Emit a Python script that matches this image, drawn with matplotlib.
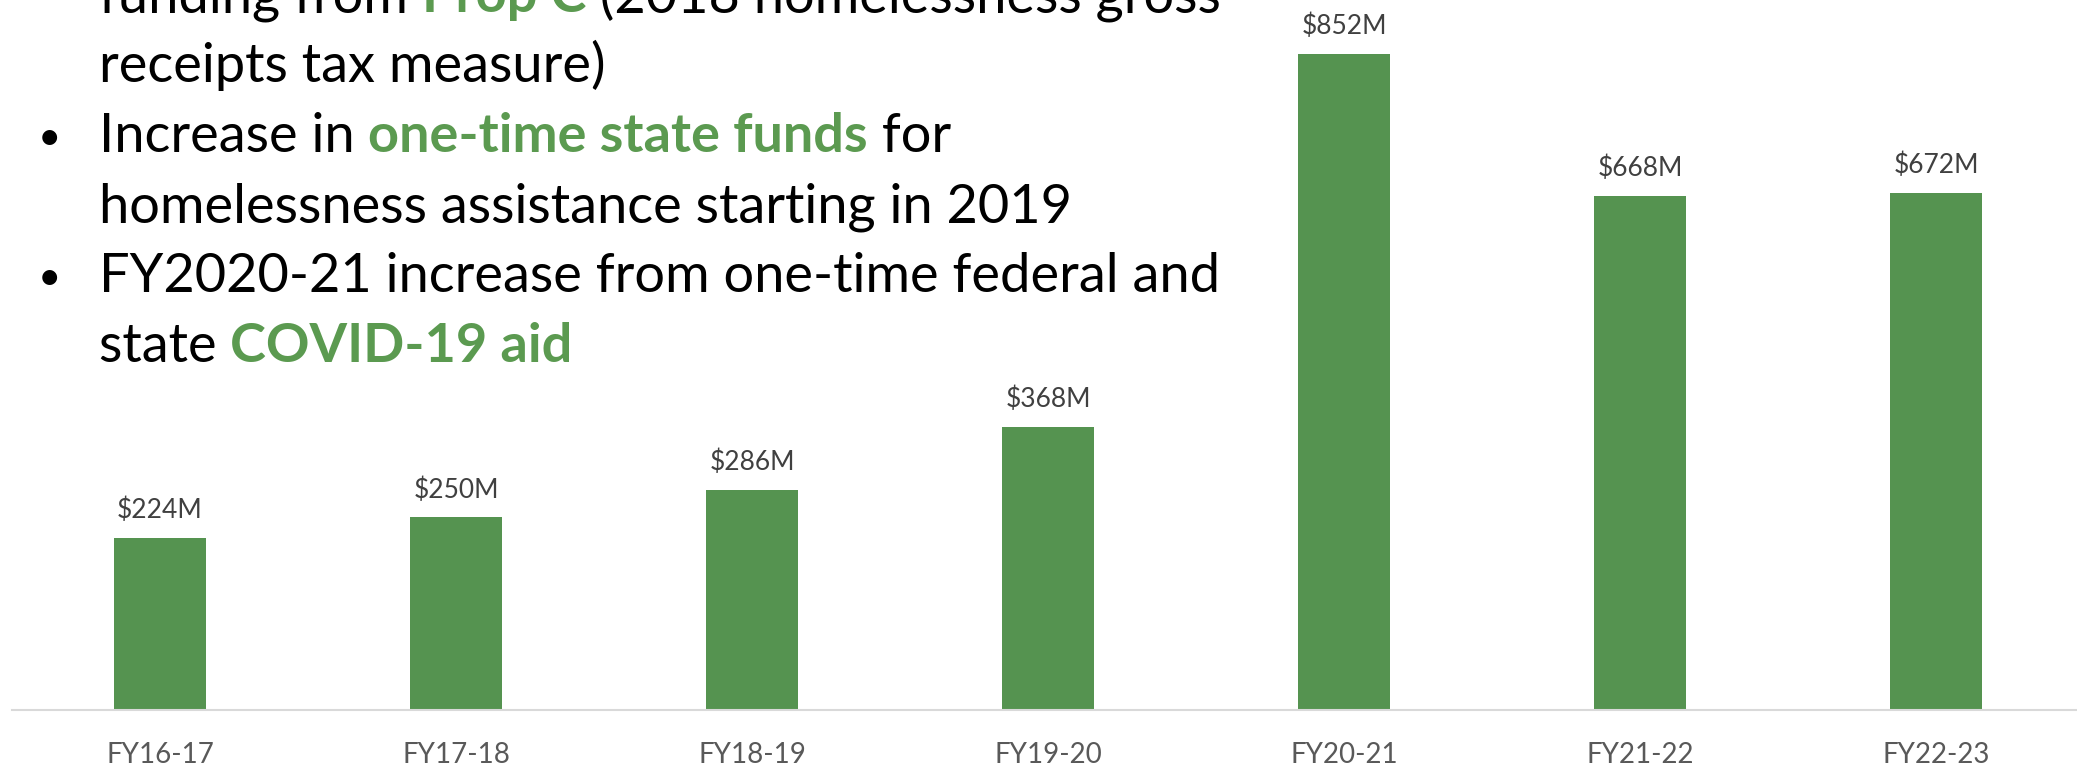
import matplotlib
matplotlib.use('Agg')
import matplotlib.pyplot as plt

# data ($ millions)
years = ['FY16-17', 'FY17-18', 'FY18-19', 'FY19-20', 'FY20-21', 'FY21-22', 'FY22-23']
funding = [224, 250, 286, 368, 852, 668, 672]

# bullet text: (text, highlighted) segments per line, bullet flag
notes = [
    (False, [('funding from ', False), ('Prop C', True), (' (2018 homelessness gross', False)]),
    (False, [('receipts tax measure)', False)]),
    (True, [('Increase in ', False), ('one-time state funds', True), (' for', False)]),
    (False, [('homelessness assistance starting in 2019', False)]),
    (True, [('FY2020-21 increase from one-time federal and', False)]),
    (False, [('state ', False), ('COVID-19 aid', True)]),
]

GREEN = '#559350'
TEXT_GREEN = '#5B9A50'

plt.rcParams['font.family'] = ['Lato', 'DejaVu Sans']

W, H = 2077, 766
fig = plt.figure(figsize=(W / 100, H / 100), dpi=100)
ax = fig.add_axes([12 / W, 56 / H, 7 * 296 / W, 710 / H])

x = list(range(len(years)))
ax.bar(x, funding, width=0.313, color=GREEN)
ax.set_xlim(-0.5, 6.5)
ax.set_ylim(0, 922)

for xi, v in zip(x, funding):
    ax.annotate(f'${v}M', (xi, v), xytext=(0, 14), textcoords='offset points',
                ha='center', va='baseline', fontsize=19, color='#404040')

for s in ['top', 'right', 'left']:
    ax.spines[s].set_visible(False)
ax.spines['bottom'].set_color('#D9D9D9')
ax.spines['bottom'].set_linewidth(1.5)
ax.set_yticks([])
ax.set_xticks(x, years)
ax.tick_params(axis='x', length=0, pad=23, labelsize=20, labelcolor='#595959')

# bullet notes, drawn segment by segment
r = fig.canvas.get_renderer()
FS = 39
y_px = 12
for bullet, parts in notes:
    if bullet:
        fig.text(49 / W, 1 - (y_px - 2) / H, '\u2022', fontsize=29, ha='center',
                 va='baseline', color='black')
    x_px = 99
    for s, hl in parts:
        t = fig.text(x_px / W, 1 - y_px / H, s, fontsize=FS, ha='left', va='baseline',
                     color=TEXT_GREEN if hl else 'black',
                     fontweight='bold' if hl else 'normal')
        bb = t.get_window_extent(renderer=r)
        x_px = bb.x1
    y_px += 70

fig.savefig('out.png', dpi=100)
